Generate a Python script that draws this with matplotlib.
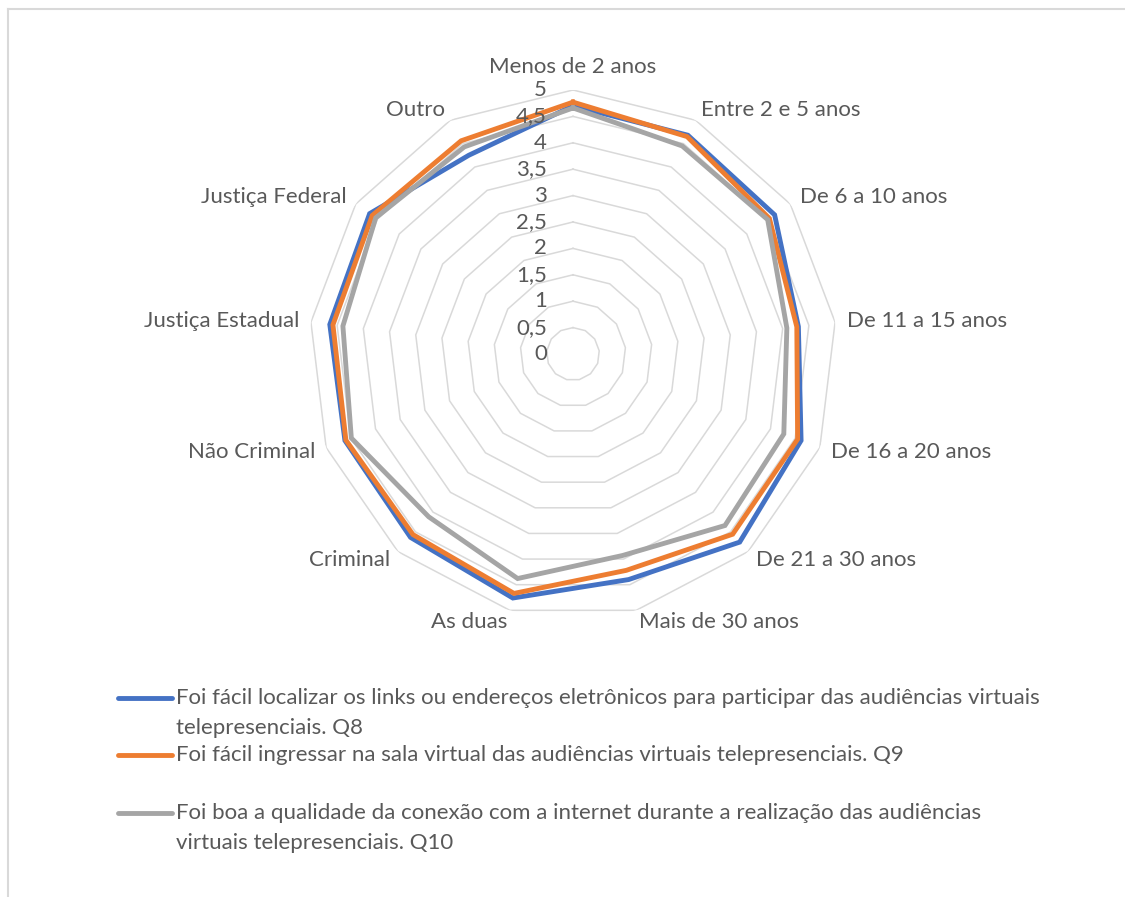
import numpy as np
import matplotlib
matplotlib.use("Agg")
import matplotlib.pyplot as plt
from matplotlib.lines import Line2D
from matplotlib.transforms import offset_copy

plt.rcParams['font.family'] = ['Lato', 'DejaVu Sans']

categories = ["Menos de 2 anos", "Entre 2 e 5 anos", "De 6 a 10 anos", "De 11 a 15 anos",
              "De 16 a 20 anos", "De 21 a 30 anos", "Mais de 30 anos", "As duas",
              "Criminal", "Não Criminal", "Justiça Estadual", "Justiça Federal", "Outro"]

q8 = [4.70, 4.68, 4.64, 4.30, 4.62, 4.76, 4.40, 4.76, 4.64, 4.62, 4.64, 4.68, 4.25]
q9 = [4.77, 4.65, 4.52, 4.27, 4.55, 4.56, 4.22, 4.67, 4.57, 4.60, 4.58, 4.62, 4.56]
q10 = [4.66, 4.45, 4.48, 4.08, 4.27, 4.34, 3.93, 4.38, 4.12, 4.49, 4.39, 4.54, 4.43]

series_labels = [
    ["Foi fácil localizar os links ou endereços eletrônicos para participar das audiências virtuais",
     "telepresenciais. Q8"],
    ["Foi fácil ingressar na sala virtual das audiências virtuais telepresenciais. Q9"],
    ["Foi boa a qualidade da conexão com a internet durante a realização das audiências",
     "virtuais telepresenciais. Q10"],
]
series_values = [q8, q9, q10]
colors = ["#4472C4", "#ED7D31", "#A5A5A5"]

r_ticks = [0, 0.5, 1, 1.5, 2, 2.5, 3, 3.5, 4, 4.5, 5]
r_tick_labels = ["0", "0,5", "1", "1,5", "2", "2,5", "3", "3,5", "4", "4,5", "5"]

W, H = 1125, 897
fig = plt.figure(figsize=(W / 100, H / 100), dpi=100)

cx, cy, R = 573, 354, 264
ax = fig.add_axes([(cx - R) / W, (H - cy - R) / H, 2 * R / W, 2 * R / H], projection='polar')
ax.set_theta_zero_location('N')
ax.set_theta_direction(-1)
ax.set_ylim(0, 5)
ax.grid(False)
ax.spines['polar'].set_visible(False)
ax.set_xticks([])
ax.set_yticks([])
ax.patch.set_alpha(0)

n = len(categories)
theta = np.linspace(0, 2 * np.pi, n, endpoint=False)
theta_c = np.append(theta, theta[0])

text_color = "#595959"
grid_color = "#D9D9D9"
fs = 16

for v in r_ticks[1:]:
    ax.plot(theta_c, [v] * (n + 1), color=grid_color, lw=1.1, zorder=1)

for vals, col in zip(series_values, colors):
    ax.plot(theta_c, list(vals) + [vals[0]], color=col, lw=3.5, zorder=3,
            solid_joinstyle='miter')

# radial tick labels
tr = offset_copy(ax.transData, fig=fig, x=-26, y=0, units='dots')
for v, lab in zip(r_ticks, r_tick_labels):
    ax.text(0, v, lab, transform=tr, ha='right', va='center', fontsize=fs,
            color=text_color, zorder=4)

# category labels
for t, lab in zip(theta, categories):
    s = np.sin(t)
    if abs(s) < 0.05:
        ax.text(t, 5.25, lab, ha='center', va='bottom', fontsize=fs, color=text_color)
    else:
        ax.text(t, 5.22, lab, ha='left' if s > 0 else 'right', va='center',
                fontsize=fs, color=text_color)

# legend (manual)
entry_y = [[698, 728], [755], [813, 843]]
for lines, ys, col in zip(series_labels, entry_y, colors):
    fig.add_artist(Line2D([118 / W, 172 / W], [1 - ys[0] / H, 1 - ys[0] / H],
                          color=col, lw=3.5, solid_capstyle='round'))
    for txt, y in zip(lines, ys):
        fig.text(176 / W, 1 - y / H, txt, ha='left', va='center', fontsize=fs,
                 color=text_color)

# chart border (top and left visible)
fig.add_artist(Line2D([8 / W, 1.0], [1 - 9 / H, 1 - 9 / H], color=grid_color, lw=1.5))
fig.add_artist(Line2D([8 / W, 8 / W], [0, 1 - 9 / H], color=grid_color, lw=1.5))

fig.savefig("out.png", dpi=100)
